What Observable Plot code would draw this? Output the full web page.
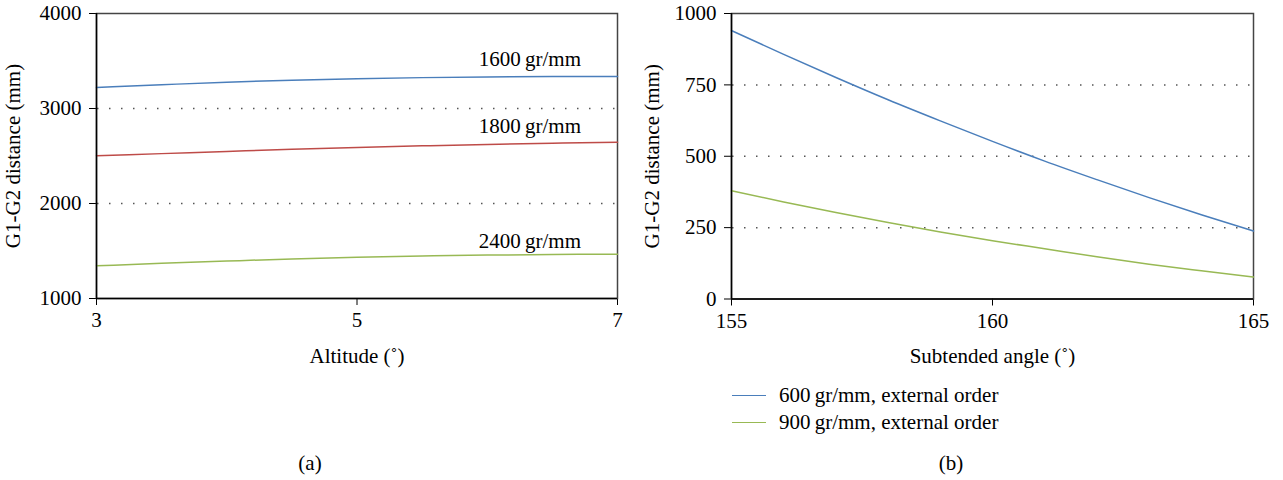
<!DOCTYPE html>
<html><head><meta charset="utf-8">
<script src="https://cdn.jsdelivr.net/npm/d3@7"></script>
<script src="https://cdn.jsdelivr.net/npm/@observablehq/plot@0.6"></script>
<style>
body{margin:0;background:#fff;}
#root{position:relative;width:1283px;height:480px;font-family:"Liberation Serif",serif;color:#000;overflow:hidden;}
#root svg, #root svg text{font-family:"Liberation Serif",serif !important;}
.panel{position:absolute;top:0;}
.cap{position:absolute;font-size:21px;transform:translate(-50%,-50%);white-space:nowrap;}
.leg{position:absolute;font-size:21px;white-space:nowrap;display:flex;align-items:center;}
.leg span.sw{display:inline-block;width:34px;height:0;border-top:1.5px solid;margin-right:13px;}
</style></head><body><div id="root"></div>
<script>
// Panel (a)
const altitude = [3, 3.5, 4, 4.5, 5, 5.5, 6, 6.5, 7];
const dist1600 = [3221, 3250, 3277, 3298, 3314, 3325, 3332, 3336, 3338];
const dist1800 = [2502, 2525, 2548, 2570, 2590, 2607, 2622, 2635, 2646];
const dist2400 = [1344, 1370, 1394, 1416, 1434, 1447, 1457, 1463, 1466];
const seriesA = ["1600\u2009gr/mm", "1800\u2009gr/mm", "2400\u2009gr/mm"];
const labelYA = [3513, 2818, 1607];
const labelXA = 6.72;
const ticksXA = [3, 5, 7];
const ticksYA = [1000, 2000, 3000, 4000];
const gridYA = [2000, 3000];

// Panel (b)
const angle = [155, 156, 157, 158, 159, 160, 161, 162, 163, 164, 165];
const dist600 = [940, 857, 776, 698, 624, 552, 483, 418, 355, 295, 238];
const dist900 = [379, 340, 303, 268, 235, 204, 176, 148, 122, 99, 77];
const seriesB = ["600\u2009gr/mm, external order", "900\u2009gr/mm, external order"];
const ticksXB = [155, 160, 165];
const ticksYB = [0, 250, 500, 750, 1000];
const gridYB = [250, 500, 750];

const BLUE = "#4a7ebb", RED = "#be4b48", GREEN = "#98b954";
const colorsA = [BLUE, RED, GREEN];
const colorsB = [BLUE, GREEN];

const dataA = [];
[dist1600, dist1800, dist2400].forEach((arr, i) => arr.forEach((v, j) => dataA.push({x: altitude[j], y: v, s: seriesA[i]})));
const dataB = [];
[dist600, dist900].forEach((arr, i) => arr.forEach((v, j) => dataB.push({x: angle[j], y: v, s: seriesB[i]})));
const labelsA = seriesA.map((s, i) => ({x: labelXA, y: labelYA[i], s}));

const style = {fontFamily: "Liberation Serif, serif", fontSize: "21px", color: "#000", background: "transparent", overflow: "visible"};
const fmt = d => String(d);

const left = Plot.plot({
  width: 640, height: 370,
  marginLeft: 96, marginRight: 23, marginTop: 13, marginBottom: 72,
  style,
  x: {domain: [3, 7], ticks: ticksXA, tickFormat: fmt, tickSize: 7, tickPadding: 7, label: "Altitude (\u02DA)", labelAnchor: "center", labelOffset: 64, labelArrow: "none"},
  y: {domain: [1000, 4000], ticks: ticksYA, tickFormat: fmt, tickSize: 7, tickPadding: 8, label: "G1-G2 distance (mm)", labelAnchor: "center", labelOffset: 91, labelArrow: "none"},
  color: {domain: seriesA, range: colorsA},
  marks: [
    Plot.ruleY(gridYA, {stroke: "#555", strokeWidth: 1.5, strokeDasharray: "1.5,10.5", strokeDashoffset: -1}),
    Plot.frame({stroke: "#444", strokeWidth: 1.5}),
    Plot.line(dataA, {x: "x", y: "y", z: "s", stroke: "s", strokeWidth: 1.5, curve: "monotone-x"}),
    Plot.ruleX([3], {stroke: "#000", strokeWidth: 1.5}),
    Plot.ruleY([1000], {stroke: "#000", strokeWidth: 1.5}),
    Plot.text(labelsA, {x: "x", y: "y", text: "s", textAnchor: "end", fontSize: 21})
  ]
});

const right = Plot.plot({
  width: 643, height: 370,
  marginLeft: 91, marginRight: 30, marginTop: 13, marginBottom: 71.5,
  style,
  x: {domain: [155, 165], ticks: ticksXB, tickFormat: fmt, tickSize: 7, tickPadding: 7, label: "Subtended angle (\u02DA)", labelAnchor: "center", labelOffset: 64, labelArrow: "none"},
  y: {domain: [0, 1000], ticks: ticksYB, tickFormat: fmt, tickSize: 7, tickPadding: 8, label: "G1-G2 distance (mm)", labelAnchor: "center", labelOffset: 87, labelArrow: "none"},
  color: {domain: seriesB, range: colorsB},
  marks: [
    Plot.ruleY(gridYB, {stroke: "#555", strokeWidth: 1.5, strokeDasharray: "1.5,10.5", strokeDashoffset: -1}),
    Plot.frame({stroke: "#444", strokeWidth: 1.5}),
    Plot.line(dataB, {x: "x", y: "y", z: "s", stroke: "s", strokeWidth: 1.5, curve: "monotone-x"}),
    Plot.ruleX([155], {stroke: "#000", strokeWidth: 1.5}),
    Plot.ruleY([0], {stroke: "#000", strokeWidth: 1.5})
  ]
});

const root = document.getElementById("root");
const pa = document.createElement("div"); pa.className = "panel"; pa.style.left = "0px"; pa.appendChild(left); root.appendChild(pa);
const pb = document.createElement("div"); pb.className = "panel"; pb.style.left = "640px"; pb.appendChild(right); root.appendChild(pb);

// legend for panel (b)
seriesB.forEach((s, i) => {
  const d = document.createElement("div");
  d.className = "leg";
  d.style.left = "732px";
  d.style.top = (395 + 27 * i - 12) + "px";
  d.style.height = "24px";
  const sw = document.createElement("span"); sw.className = "sw"; sw.style.borderTopColor = colorsB[i];
  const t = document.createElement("span"); t.textContent = s;
  d.appendChild(sw); d.appendChild(t);
  root.appendChild(d);
});

[["(a)", 310], ["(b)", 951]].forEach(([t, x]) => {
  const c = document.createElement("div"); c.className = "cap"; c.textContent = t;
  c.style.left = x + "px"; c.style.top = "463px"; root.appendChild(c);
});
</script></body></html>
